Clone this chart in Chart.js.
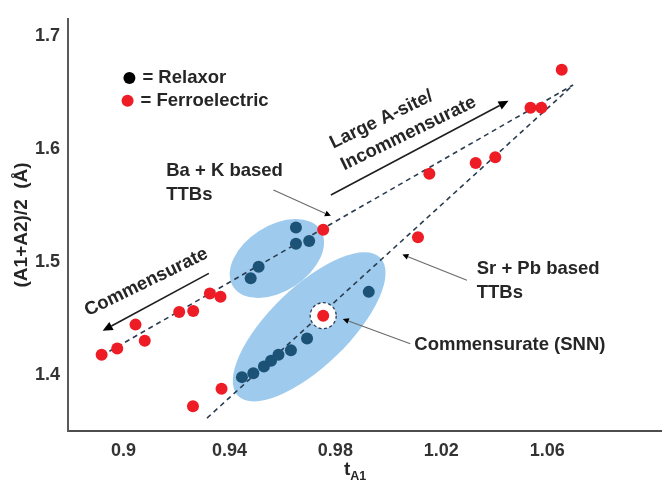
<!DOCTYPE html>
<html>
<head>
<meta charset="utf-8">
<script src="https://cdn.jsdelivr.net/npm/chart.js@4"></script>
<style>
html,body{margin:0;padding:0;background:#fff;}
#wrap{width:667px;height:484px;position:relative;}
</style>
</head>
<body>
<div id="wrap"><canvas id="c"></canvas></div>
<script>
// Tolerance factor t_A1 against mean A-site radius (A1+A2)/2 for TTB compositions
const relaxorT = [0.9651, 0.9651, 0.9701, 0.9510, 0.9480, 0.9447, 0.9490, 0.9530, 0.9557, 0.9585, 0.9632, 0.9693, 0.9926];
const relaxorR = [1.5302, 1.5159, 1.5183, 1.4955, 1.4852, 1.3977, 1.4012, 1.4071, 1.4123, 1.4176, 1.4214, 1.4319, 1.4732];

const ferroT = [0.8917, 0.8976, 0.9045, 0.9080, 0.9210, 0.9263, 0.9326, 0.9366, 0.9370, 0.9262,
                0.9754, 0.9754, 1.0655, 1.0537, 1.0578, 1.0155, 1.0330, 1.0404, 1.0112];
const ferroR = [1.4176, 1.4231, 1.4442, 1.4299, 1.4554, 1.4562, 1.4718, 1.4688, 1.3875, 1.3719,
                1.5282, 1.4521, 1.6698, 1.6362, 1.6362, 1.5777, 1.5873, 1.5923, 1.5215];
const snnIndex = 11; // Sr2NaNb5O15, ringed

// Trend lines for the two families
const bakTrendT  = [0.8917, 1.0698];
const bakTrendR  = [1.4167, 1.6564];
const srpbTrendT = [0.9315, 1.0698];
const srpbTrendR = [1.3614, 1.6564];

const xTicks = [0.9, 0.94, 0.98, 1.02, 1.06];
const yTicks = [1.4, 1.5, 1.6, 1.7];

// Shaded relaxor regions: centre, end of the long axis, minor/major ratio
const groupEllipses = [
  { cx: 0.9579, cy: 1.5028, ex: 0.9744, ey: 1.5279, ratio: 0.63 },
  { cx: 0.9701, cy: 1.4422, ex: 0.9970, ey: 1.5032, ratio: 0.40 }
];

const notes = [
  { text: 'Ba + K based', x: 0.9161, y: 1.5800 },
  { text: 'TTBs', x: 0.9161, y: 1.5590 },
  { text: 'Sr + Pb based', x: 1.0334, y: 1.4931 },
  { text: 'TTBs', x: 1.0334, y: 1.4720 },
  { text: 'Commensurate (SNN)', x: 1.0098, y: 1.4264 },
  { text: 'Large A-site/', x: 0.9974, y: 1.6257, angle: -26 },
  { text: 'Incommensurate', x: 1.0076, y: 1.6134, angle: -26 },
  { text: 'Commensurate', x: 0.9086, y: 1.4817, angle: -26 }
];

const pointers = [
  { from: [0.9566, 1.5633], to: [0.9783, 1.5405], kind: 'thin' },
  { from: [1.0297, 1.4835], to: [1.0053, 1.5063], kind: 'thin' },
  { from: [1.0083, 1.4273], to: [0.9828, 1.4492], kind: 'thin' },
  { from: [0.9783, 1.5590], to: [1.0454, 1.6424], kind: 'bold' },
  { from: [0.9322, 1.4896], to: [0.8921, 1.4387], kind: 'bold' }
];

const keyEntries = [
  { label: '= Relaxor', color: '#000000', x: 0.9022, y: 1.6626 },
  { label: '= Ferroelectric', color: '#ee1c24', x: 0.9015, y: 1.6424 }
];

const FONT = 'Arial, "Liberation Sans", Helvetica, sans-serif';
const TEXT = '#262626';

const zip = (xs, ys) => xs.map((v, i) => ({ x: v, y: ys[i] }));

function toPx(chart, x, y) {
  return [chart.scales.x.getPixelForValue(x), chart.scales.y.getPixelForValue(y)];
}

function drawArrow(ctx, p1, p2, o) {
  const ang = Math.atan2(p2[1] - p1[1], p2[0] - p1[0]);
  const bx = p2[0] - Math.cos(ang) * o.head;
  const by = p2[1] - Math.sin(ang) * o.head;
  ctx.save();
  ctx.strokeStyle = o.color;
  ctx.lineWidth = o.width;
  ctx.beginPath();
  ctx.moveTo(p1[0], p1[1]);
  ctx.lineTo(bx, by);
  ctx.stroke();
  ctx.fillStyle = o.headColor;
  ctx.beginPath();
  ctx.moveTo(p2[0], p2[1]);
  ctx.lineTo(bx + Math.sin(ang) * o.half, by - Math.cos(ang) * o.half);
  ctx.lineTo(bx - Math.sin(ang) * o.half, by + Math.cos(ang) * o.half);
  ctx.closePath();
  ctx.fill();
  ctx.restore();
}

const decorations = {
  id: 'decorations',
  beforeDatasetsDraw(chart) {
    const ctx = chart.ctx;
    ctx.save();
    ctx.fillStyle = '#9dcaed';
    groupEllipses.forEach(e => {
      const c = toPx(chart, e.cx, e.cy);
      const t = toPx(chart, e.ex, e.ey);
      const a = Math.hypot(t[0] - c[0], t[1] - c[1]);
      const rot = Math.atan2(t[1] - c[1], t[0] - c[0]);
      ctx.beginPath();
      ctx.ellipse(c[0], c[1], a, a * e.ratio, rot, 0, Math.PI * 2);
      ctx.fill();
    });
    ctx.restore();
  },
  afterDatasetDraw(chart, args) {
    // ring around SNN, drawn once the trend lines are down
    if (args.index !== 3) return;
    const ctx = chart.ctx;
    const c = toPx(chart, ferroT[snnIndex], ferroR[snnIndex]);
    ctx.save();
    ctx.beginPath();
    ctx.arc(c[0], c[1], 13, 0, Math.PI * 2);
    ctx.fillStyle = '#ffffff';
    ctx.fill();
    ctx.setLineDash([3, 2.5]);
    ctx.lineWidth = 1.3;
    ctx.strokeStyle = '#2b3d4f';
    ctx.stroke();
    ctx.restore();
  },
  afterDatasetsDraw(chart) {
    const ctx = chart.ctx;
    const area = chart.chartArea;

    pointers.forEach(p => {
      const a = toPx(chart, p.from[0], p.from[1]);
      const b = toPx(chart, p.to[0], p.to[1]);
      if (p.kind === 'bold') {
        drawArrow(ctx, a, b, { color: '#1e1e1e', headColor: '#000', width: 1.6, head: 10, half: 4.5 });
      } else {
        drawArrow(ctx, a, b, { color: '#6a6a6a', headColor: '#000', width: 1.1, head: 6, half: 3 });
      }
    });

    ctx.save();
    ctx.fillStyle = TEXT;
    ctx.font = 'bold 18.5px ' + FONT;
    notes.forEach(n => {
      const p = toPx(chart, n.x, n.y);
      ctx.save();
      ctx.translate(p[0], p[1]);
      if (n.angle) {
        ctx.rotate(n.angle * Math.PI / 180);
        ctx.textAlign = 'center';
      } else {
        ctx.textAlign = 'left';
      }
      ctx.textBaseline = 'middle';
      ctx.fillText(n.text, 0, 0);
      ctx.restore();
    });

    // key
    keyEntries.forEach(k => {
      const p = toPx(chart, k.x, k.y);
      ctx.beginPath();
      ctx.arc(p[0], p[1], 6, 0, Math.PI * 2);
      ctx.fillStyle = k.color;
      ctx.fill();
      ctx.fillStyle = TEXT;
      ctx.textAlign = 'left';
      ctx.textBaseline = 'middle';
      ctx.fillText(k.label, p[0] + 13, p[1]);
    });

    // axis titles
    ctx.font = 'bold 19px ' + FONT;
    ctx.save();
    ctx.translate(22, (area.top + area.bottom) / 2);
    ctx.rotate(-Math.PI / 2);
    ctx.textAlign = 'center';
    ctx.textBaseline = 'middle';
    ctx.fillText('(A1+A2)/2  (\u00C5)', 0, 0);
    ctx.restore();

    const tx = 344, ty = 470;
    ctx.textAlign = 'left';
    ctx.textBaseline = 'middle';
    ctx.fillText('t', tx, ty);
    const tw = ctx.measureText('t').width;
    ctx.font = 'bold 12.5px ' + FONT;
    ctx.fillText('A1', tx + tw, ty + 7);
    ctx.restore();
  }
};

new Chart(document.getElementById('c'), {
  type: 'scatter',
  data: {
    datasets: [
      { label: 'Relaxor', data: zip(relaxorT, relaxorR), backgroundColor: '#1b5276', borderWidth: 0, pointRadius: 6, order: 0 },
      { label: 'Ferroelectric', data: zip(ferroT, ferroR), backgroundColor: '#ee1c24', borderWidth: 0, pointRadius: 6, order: 0 },
      { type: 'line', label: 'Ba + K trend', data: zip(bakTrendT, bakTrendR), borderColor: '#2b3d4f', borderWidth: 1.6,
        borderDash: [5, 4], pointRadius: 0, fill: false, tension: 0, order: 2 },
      { type: 'line', label: 'Sr + Pb trend', data: zip(srpbTrendT, srpbTrendR), borderColor: '#2b3d4f', borderWidth: 1.6,
        borderDash: [5, 4], pointRadius: 0, fill: false, tension: 0, order: 1 }
    ]
  },
  options: {
    responsive: true,
    maintainAspectRatio: false,
    animation: false,
    devicePixelRatio: 1,
    layout: { padding: { top: 15, right: 1, left: 0, bottom: 0 } },
    plugins: { legend: { display: false }, tooltip: { enabled: false } },
    scales: {
      x: {
        type: 'linear',
        min: 0.879,
        max: 1.103,
        grid: { display: false, drawTicks: false },
        border: { display: true, color: '#4d4d4d', width: 2 },
        afterBuildTicks: s => { s.ticks = xTicks.map(v => ({ value: v })); },
        afterFit: s => { s.height = 53; },
        ticks: {
          padding: 9,
          color: '#333',
          font: { family: FONT, size: 18, weight: 'bold' },
          callback: v => String(+v.toFixed(2))
        }
      },
      y: {
        type: 'linear',
        min: 1.35,
        max: 1.715,
        grid: { display: false, drawTicks: false },
        border: { display: true, color: '#5a5a5a', width: 2 },
        afterBuildTicks: s => { s.ticks = yTicks.map(v => ({ value: v })); },
        afterFit: s => { s.width = 68; },
        ticks: {
          padding: 8,
          color: '#333',
          font: { family: FONT, size: 18, weight: 'bold' },
          callback: v => v.toFixed(1)
        }
      }
    }
  },
  plugins: [decorations]
});
</script>
</body>
</html>
